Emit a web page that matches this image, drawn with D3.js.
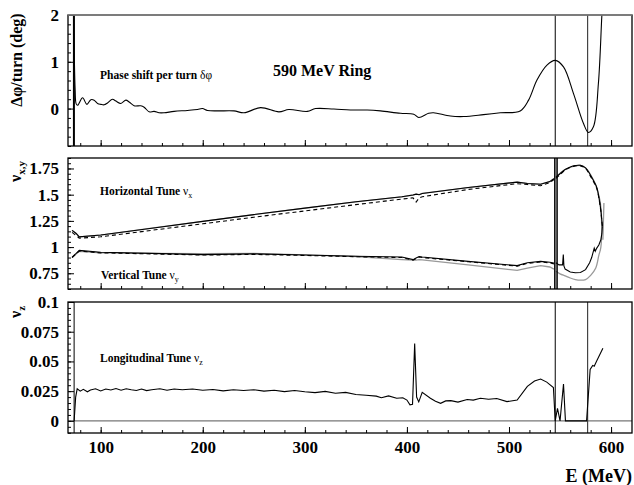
<!DOCTYPE html>
<html>
<head>
<meta charset="utf-8">
<script src="https://cdn.jsdelivr.net/npm/d3@7"></script>
<style>
  body { margin: 0; background: #fff; }
  svg { display: block; }
</style>
</head>
<body>
<div id="chart"></div>
<script>
// ---- data ----
var energyTicks = [100, 200, 300, 400, 500, 600];

// phase shift per turn (deg)
var phaseE = [73.3, 75, 76, 77.4, 82.3, 86.5, 90.4, 93.6, 97, 100.2, 103.4, 106.7, 111.6, 114.9, 119.8, 124.7, 127.9, 132.8, 139.3, 142.6, 147.5, 152.3, 157.2, 162.1, 171.9, 185, 194.8, 199.7, 204.6, 214.4, 230.6, 240.4, 256.7, 274.6, 284.4, 302.4, 310.5, 328.4, 344.7, 361.1, 374.1, 393.7, 406.7, 411.6, 421.3, 426.2, 442.6, 455.6, 475.1, 491.5, 511, 519.2, 527.4, 537.2, 545.3, 553.4, 563.2, 573, 577.8, 582.7, 587.6, 590.9, 592.5];
var phaseVal = [2.6, 0.4, 0.1, 0.07, 0.23, 0.09, 0.19, 0.18, 0.11, 0.09, 0.08, 0.12, 0.2, 0.16, 0.11, 0.18, 0.14, 0.06, 0.06, 0.03, -0.07, -0.06, -0.09, -0.09, -0.06, -0.04, -0.02, 0, -0.04, -0.05, -0.05, -0.09, 0.02, -0.07, -0.02, -0.06, 0.0, -0.01, -0.03, -0.03, -0.05, -0.1, -0.12, -0.19, -0.1, -0.09, -0.16, -0.17, -0.13, -0.09, -0.05, 0.18, 0.61, 0.93, 1.03, 0.89, 0.32, -0.32, -0.51, -0.39, 0.54, 1.96, 2.6];

// tunes below the resonance
var tuneE = [72, 76, 79, 100, 150, 200, 250, 300, 350, 395, 406, 409, 412, 415, 460, 508, 518, 531, 540, 544];
var tuneX = [1.16, 1.13, 1.098, 1.115, 1.18, 1.245, 1.31, 1.372, 1.432, 1.48, 1.497, 1.505, 1.50, 1.512, 1.568, 1.62, 1.607, 1.60, 1.625, 1.653];
var tuneXDash = [1.14, 1.11, 1.085, 1.098, 1.16, 1.222, 1.285, 1.345, 1.405, 1.458, 1.47, 1.43, 1.47, 1.48, 1.55, 1.605, 1.597, 1.585, 1.615, 1.645];
var tuneY = [0.905, 0.94, 0.968, 0.95, 0.94, 0.928, 0.935, 0.924, 0.912, 0.905, 0.88, 0.895, 0.91, 0.905, 0.864, 0.823, 0.85, 0.864, 0.855, 0.848];
var tuneYDash = [0.9, 0.935, 0.962, 0.945, 0.935, 0.924, 0.93, 0.92, 0.908, 0.9, 0.875, 0.89, 0.905, 0.9, 0.86, 0.818, 0.845, 0.858, 0.85, 0.84];
var tuneYGray = [0.9, 0.935, 0.96, 0.945, 0.94, 0.938, 0.94, 0.925, 0.91, 0.88, 0.875, 0.875, 0.88, 0.878, 0.83, 0.778, 0.8, 0.823, 0.81, 0.79];

// tunes above the resonance (loop)
var upperE = [546, 550, 555, 560, 565, 570, 575, 579, 583, 586, 588, 590, 591, 591.5];
var upperNu = [1.665, 1.70, 1.74, 1.765, 1.778, 1.78, 1.755, 1.70, 1.63, 1.57, 1.48, 1.35, 1.25, 1.2];
var upperNuDash = [1.655, 1.69, 1.735, 1.76, 1.775, 1.775, 1.75, 1.69, 1.62, 1.56, 1.47, 1.34, 1.24, 1.2];
var lowerE = [591.5, 591, 590, 588, 586, 584.5, 583.5, 581, 579, 575, 570, 565, 560, 555, 553.8, 553.2, 552.5, 549, 546];
var lowerNu = [1.2, 1.13, 1.07, 1.02, 0.99, 0.96, 0.99, 0.9, 0.85, 0.785, 0.758, 0.755, 0.762, 0.79, 0.82, 0.93, 0.83, 0.83, 0.85];
var grayLoopE = [546, 555, 565, 570, 575, 580, 585, 589, 590.5, 590, 588, 585, 580, 575, 570, 565, 560, 555, 550, 546];
var grayLoopNu = [1.67, 1.74, 1.775, 1.78, 1.755, 1.69, 1.59, 1.45, 1.3, 1.0, 0.92, 0.80, 0.73, 0.69, 0.684, 0.69, 0.705, 0.725, 0.745, 0.77];
var grayTailE = [592, 592.5, 593];
var grayTailNu = [1.07, 1.25, 1.42];

// longitudinal tune
var longE = [74, 75.5, 77, 80, 83, 87, 90, 95, 100, 105, 110, 115, 120, 125, 130, 135, 140, 145, 150, 158, 165, 172, 180, 190, 200, 210, 220, 230, 240, 250, 260, 270, 280, 290, 300, 310, 320, 330, 340, 350, 360, 370, 375, 382, 390, 396, 400, 403, 405.5, 407.6, 409.5, 411.6, 415, 423, 428, 433, 438, 443, 450, 459, 465, 472, 480, 488, 498, 508, 518, 525, 531, 537, 543.5, 545.3, 547.5, 550, 553.4, 555.3, 560, 570, 576, 579.5, 582, 583.5, 586, 592];
var longVal = [0, 0.02, 0.027, 0.025, 0.0265, 0.0245, 0.026, 0.027, 0.0252, 0.0268, 0.026, 0.0272, 0.0258, 0.027, 0.0262, 0.0256, 0.0268, 0.0255, 0.0262, 0.027, 0.0258, 0.0268, 0.0262, 0.0268, 0.0258, 0.0264, 0.0252, 0.0262, 0.0255, 0.0262, 0.025, 0.0258, 0.0246, 0.0255, 0.0245, 0.0238, 0.0248, 0.0232, 0.024, 0.0222, 0.0215, 0.0208, 0.0195, 0.021, 0.019, 0.0195, 0.0175, 0.0135, 0.014, 0.065, 0.02, 0.016, 0.024, 0.019, 0.0165, 0.0148, 0.0168, 0.017, 0.0158, 0.018, 0.0175, 0.019, 0.0182, 0.0188, 0.0162, 0.0175, 0.029, 0.0335, 0.0352, 0.0326, 0.028, 0, 0.0106, 0, 0.031, 0, 0, 0, 0, 0.0432, 0.0467, 0.046, 0.0505, 0.061];

var width = 634, height = 485;
var left = 68, right = 632;
var serif = '"Liberation Serif", "Times New Roman", serif';

var svg = d3.select('#chart')
  .append('svg')
  .attr('width', width)
  .attr('height', height)
  .attr('font-family', serif);

var x = d3.scaleLinear().domain([68, 620.5]).range([left, right]);

var panels = [
  { top: 15, bottom: 146, domain: [-0.8, 2], major: [0, 1, 2], minor: 0.2, fmt: d3.format('d') },
  { top: 158, bottom: 289, domain: [0.6, 1.85], major: [0.75, 1, 1.25, 1.5, 1.75], minor: 0.05, fmt: function(d) { return String(d); } },
  { top: 302, bottom: 433, domain: [-0.0102, 0.1], major: [0, 0.025, 0.05, 0.075, 0.1], minor: 0.005, fmt: function(d) { return String(+d.toFixed(3)); } }
];

panels.forEach(function(p, i) {
  p.y = d3.scaleLinear().domain(p.domain).range([p.bottom, p.top]);
  var clipId = 'clip' + i;
  svg.append('clipPath').attr('id', clipId)
    .append('rect')
    .attr('x', left).attr('y', p.top)
    .attr('width', right - left).attr('height', p.bottom - p.top);
  p.g = svg.append('g').attr('clip-path', 'url(#' + clipId + ')');
});

function zip(xs, ys) {
  return xs.map(function(e, i) { return [e, ys[i]]; });
}

function drawLine(p, pts, color, w, dash, curve) {
  var line = d3.line()
    .x(function(d) { return x(d[0]); })
    .y(function(d) { return p.y(d[1]); })
    .curve(curve || d3.curveLinear);
  p.g.append('path')
    .datum(pts)
    .attr('d', line)
    .attr('fill', 'none')
    .attr('stroke', color)
    .attr('stroke-width', w)
    .attr('stroke-dasharray', dash || null);
}

function vline(p, e, color, w) {
  p.g.append('line')
    .attr('x1', x(e)).attr('x2', x(e))
    .attr('y1', p.top).attr('y2', p.bottom)
    .attr('stroke', color).attr('stroke-width', w);
}

// panel 1 - phase shift
var p1 = panels[0];
vline(p1, 73.8, '#000', 2);
vline(p1, 545.3, '#000', 1);
vline(p1, 577, '#444', 1.2);
drawLine(p1, zip(phaseE, phaseVal), '#000', 1.1, null, d3.curveCatmullRom);

// panel 2 - transverse tunes
var p2 = panels[1];
drawLine(p2, zip(tuneE, tuneYGray), '#999', 1.3);
drawLine(p2, zip(grayLoopE, grayLoopNu), '#999', 1.3, null, d3.curveCatmullRom);
drawLine(p2, zip(grayTailE, grayTailNu), '#999', 1.3);
drawLine(p2, zip(tuneE, tuneX), '#999', 1.3);
drawLine(p2, zip(tuneE, tuneX), '#000', 1.1);
drawLine(p2, zip(tuneE, tuneXDash), '#000', 1.1, '4,3');
drawLine(p2, zip(tuneE, tuneY), '#000', 1.1);
drawLine(p2, zip(tuneE, tuneYDash), '#000', 1.1, '4,3');
drawLine(p2, zip(upperE, upperNu), '#000', 1.1, null, d3.curveCatmullRom);
drawLine(p2, zip(upperE, upperNuDash), '#000', 1.1, '4,3', d3.curveCatmullRom);
drawLine(p2, zip(lowerE, lowerNu), '#000', 1.1);
vline(p2, 544.9, '#000', 1.5);
vline(p2, 547.1, '#000', 1.5);

// panel 3 - longitudinal tune
var p3 = panels[2];
p3.g.append('line')
  .attr('x1', left).attr('x2', right)
  .attr('y1', p3.y(0)).attr('y2', p3.y(0))
  .attr('stroke', '#777').attr('stroke-width', 1.2);
vline(p3, 74, '#000', 1);
vline(p3, 545.3, '#000', 1);
vline(p3, 577, '#444', 1.2);
drawLine(p3, zip(longE, longVal), '#000', 1.1);

// axes
panels.forEach(function(p, i) {
  svg.append('g')
    .attr('transform', 'translate(0,' + p.bottom + ')')
    .call(d3.axisBottom(x).tickValues(energyTicks).tickSize(-6).tickPadding(8)
      .tickFormat(i === 2 ? d3.format('d') : ''));
  svg.append('g')
    .attr('transform', 'translate(0,' + p.bottom + ')')
    .call(d3.axisBottom(x).tickValues(d3.range(80, 620, 20)).tickSize(-3).tickFormat(''));

  var minorVals = d3.range(Math.ceil(p.domain[0] / p.minor), Math.floor(p.domain[1] / p.minor + 1e-6) + 1)
    .map(function(k) { return k * p.minor; });
  svg.append('g')
    .attr('transform', 'translate(' + left + ',0)')
    .call(d3.axisLeft(p.y).tickValues(minorVals).tickSize(-3).tickFormat(''));
  svg.append('g')
    .attr('transform', 'translate(' + left + ',0)')
    .call(d3.axisLeft(p.y).tickValues(p.major).tickSize(-6).tickPadding(9).tickFormat(p.fmt));

  svg.append('rect')
    .attr('x', left).attr('y', p.top)
    .attr('width', right - left).attr('height', p.bottom - p.top)
    .attr('fill', 'none').attr('stroke', '#000').attr('stroke-width', 1.3);
});

svg.selectAll('.domain').remove();
svg.selectAll('g').attr('font-family', serif);
svg.selectAll('.tick line').attr('stroke', '#000').attr('stroke-width', 1);
svg.selectAll('.tick text')
  .attr('font-family', serif)
  .attr('font-size', 17)
  .attr('font-weight', 'bold')
  .attr('fill', '#000');

// panel 1 top edge is grey in the original
svg.append('line')
  .attr('x1', left).attr('x2', right).attr('y1', 15).attr('y2', 15)
  .attr('stroke', '#888').attr('stroke-width', 1.3);

// y labels
svg.append('text')
  .attr('transform', 'translate(22,60) rotate(-90)')
  .attr('text-anchor', 'middle')
  .attr('font-size', 16).attr('font-weight', 'bold')
  .text('\u0394\u03c6/turn (deg)');

var nxy = svg.append('text')
  .attr('transform', 'translate(21,182) rotate(-90)')
  .attr('font-size', 16).attr('font-weight', 'bold');
nxy.append('tspan').text('\u03bd');
nxy.append('tspan').attr('dy', 4).attr('font-size', 11).text('x,y');

var nz = svg.append('text')
  .attr('transform', 'translate(21,318) rotate(-90)')
  .attr('font-size', 16).attr('font-weight', 'bold');
nz.append('tspan').text('\u03bd');
nz.append('tspan').attr('dy', 4).attr('font-size', 11).text('z');

// x label
svg.append('text')
  .attr('x', 632).attr('y', 482)
  .attr('text-anchor', 'end')
  .attr('font-size', 18).attr('font-weight', 'bold')
  .text('E (MeV)');

// annotations
var ph = svg.append('text').attr('x', 100).attr('y', 79)
  .attr('font-size', 11.5).attr('font-weight', 'bold');
ph.append('tspan').text('Phase shift per turn ');
ph.append('tspan').attr('font-weight', 'normal').text('\u03b4\u03c6');

svg.append('text').attr('x', 273).attr('y', 76)
  .attr('font-size', 16).attr('font-weight', 'bold')
  .text('590 MeV Ring');

function tuneLabel(xp, yp, main, sub) {
  var t = svg.append('text').attr('x', xp).attr('y', yp)
    .attr('font-size', 11.5).attr('font-weight', 'bold');
  t.append('tspan').text(main);
  t.append('tspan').attr('font-weight', 'normal').text('\u03bd');
  t.append('tspan').attr('dy', 3).attr('font-size', 8).attr('font-weight', 'normal').text(sub);
}
tuneLabel(100, 195, 'Horizontal Tune ', 'x');
tuneLabel(101, 279, 'Vertical Tune ', 'y');
tuneLabel(100, 362, 'Longitudinal Tune ', 'z');
</script>
</body>
</html>
